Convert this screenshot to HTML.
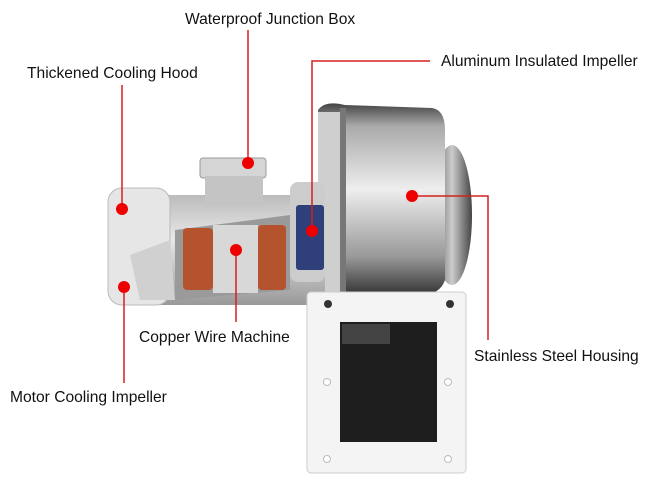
<!DOCTYPE html>
<html><head><style>
body{margin:0;background:#fff;}
svg{display:block;font-family:"Liberation Sans",sans-serif;}
</style></head><body>
<svg width="650" height="488" viewBox="0 0 650 488" xmlns="http://www.w3.org/2000/svg">
<defs>
<linearGradient id="hs" x1="0" x2="0" y1="0" y2="1">
<stop offset="0" stop-color="#444"/><stop offset="0.12" stop-color="#aaa"/><stop offset="0.45" stop-color="#eee"/><stop offset="0.8" stop-color="#999"/><stop offset="1" stop-color="#333"/></linearGradient>
<linearGradient id="mt" x1="0" x2="0" y1="0" y2="1">
<stop offset="0" stop-color="#bbb"/><stop offset="0.4" stop-color="#e8e8e8"/><stop offset="1" stop-color="#999"/></linearGradient>
<linearGradient id="fl" x1="0" x2="1"><stop offset="0" stop-color="#555"/><stop offset="0.5" stop-color="#ccc"/><stop offset="1" stop-color="#444"/></linearGradient>
</defs>
<ellipse cx="452" cy="215" rx="20" ry="70" fill="url(#fl)"/>
<path d="M318,110 Q325,100 345,105 L432,108 Q445,110 445,130 L445,280 Q440,295 420,295 L330,295 Q318,285 318,270 Z" fill="url(#hs)"/>
<rect x="318" y="112" width="22" height="180" fill="#cfcfcf"/>
<rect x="340" y="108" width="6" height="185" fill="#777"/>
<rect x="150" y="195" width="175" height="110" rx="10" fill="url(#mt)"/>
<rect x="290" y="182" width="35" height="100" rx="8" fill="#ccc"/>
<rect x="200" y="158" width="66" height="20" rx="3" fill="#d5d5d5" stroke="#999"/>
<rect x="205" y="176" width="58" height="30" fill="#c4c4c4"/>
<path d="M175,230 L290,215 L290,290 L175,300 Z" fill="#9a9a9a"/>
<rect x="183" y="228" width="30" height="62" rx="4" fill="#b5532e"/>
<rect x="258" y="225" width="28" height="65" rx="4" fill="#b5532e"/>
<rect x="213" y="225" width="45" height="68" fill="#d8d8d8"/>
<rect x="296" y="205" width="28" height="65" rx="3" fill="#2e3f7a"/>
<rect x="108" y="188" width="62" height="117" rx="14" fill="#e6e6e6" stroke="#bbb"/>
<path d="M130,255 L170,240 L175,300 L140,300 Z" fill="#d0d0d0"/>
<rect x="307" y="292" width="159" height="181" rx="4" fill="#f4f4f4" stroke="#ccc"/>
<rect x="340" y="322" width="97" height="120" fill="#1e1e1e"/>
<rect x="342" y="324" width="48" height="20" fill="#444"/>
<g fill="#333"><circle cx="328" cy="304" r="4"/><circle cx="450" cy="304" r="4"/></g>
<g fill="#fff" stroke="#bbb"><circle cx="327" cy="382" r="3.5"/><circle cx="448" cy="382" r="3.5"/><circle cx="327" cy="459" r="3.5"/><circle cx="448" cy="459" r="3.5"/></g>
<g stroke="#d42020" stroke-width="1.5" fill="none">
<path d="M248,30 V160"/><path d="M122,85 V209"/>
<path d="M430,61 H312 V231"/><path d="M412,196 H488 V340"/>
<path d="M236,250 V322"/><path d="M124,287 V383"/>
</g>
<g fill="#e00">
<circle cx="248" cy="163" r="6"/><circle cx="122" cy="209" r="6"/><circle cx="312" cy="231" r="6"/>
<circle cx="412" cy="196" r="6"/><circle cx="236" cy="250" r="6"/><circle cx="124" cy="287" r="6"/>
</g>
<g font-size="15.6" fill="#111">
<text x="185" y="24">Waterproof Junction Box</text>
<text x="27" y="78">Thickened Cooling Hood</text>
<text x="441" y="66">Aluminum Insulated Impeller</text>
<text x="139" y="342">Copper Wire Machine</text>
<text x="474" y="361">Stainless Steel Housing</text>
<text x="10" y="402">Motor Cooling Impeller</text>
</g>
</svg>
</body></html>
